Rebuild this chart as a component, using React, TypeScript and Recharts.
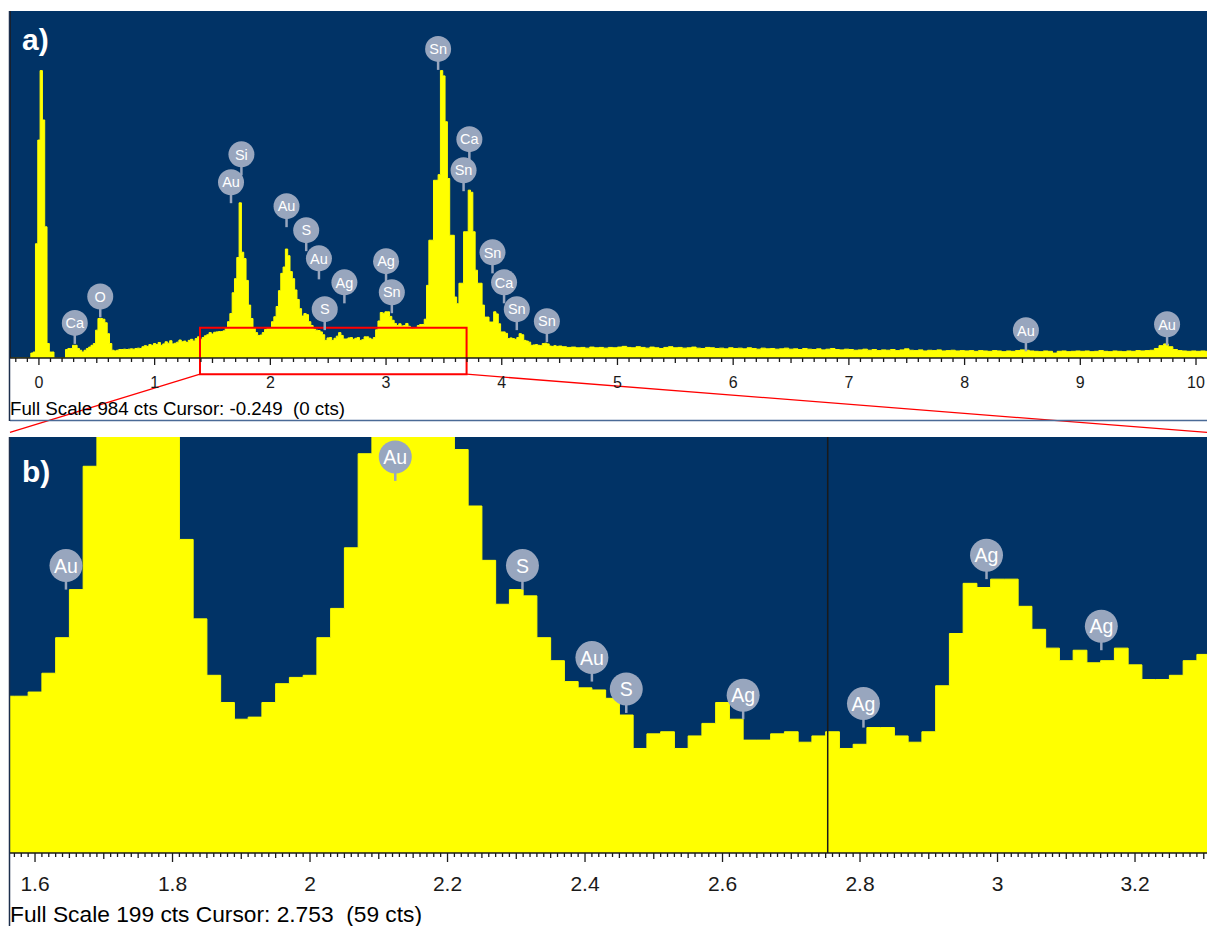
import {
  AreaChart,
  Area,
  XAxis,
  YAxis,
  CartesianGrid,
  ReferenceArea,
  ReferenceLine,
  ReferenceDot,
} from "recharts";

const NAVY = "#013366";
const YELLOW = "#ffff00";
const TAG = "#98a6be";
const INK = "#1a1a1a";
const FONT = "'Liberation Sans', Arial, Helvetica, sans-serif";

// counts per 0.02 keV channel, -0.24 .. 1.54 keV
const lowCounts = [
  0, 0, 0, 0, 0, 0, 0, 0, 0, 14, 17, 324, 618, 815, 675, 372, 41, 17, 17, 0,
  0, 0, 0, 0, 24, 27, 27, 36, 36, 27, 22, 17, 22, 27, 31, 36, 41, 79, 112, 112,
  110, 100, 69, 41, 22, 20, 22, 24, 24, 25, 24, 25, 26, 25, 27, 28, 27, 32, 35, 33,
  38, 36, 41, 38, 44, 36, 40, 46, 42, 49, 40, 42, 45, 51, 46, 48, 44, 50, 53, 48,
  55, 60, 52, 58, 63, 66, 72, 68, 73, 74,
];

// counts per 0.02 keV channel, 1.56 .. 3.32 keV (window of panel b)
const zoomCounts = [
  75, 75, 77, 86, 103, 126, 185, 225, 285, 440, 300, 282, 220, 150, 112, 85, 72, 64, 65, 72,
  81, 84, 85, 103, 117, 146, 191, 240, 258, 309, 290, 245, 225, 193, 166, 140, 119, 126, 123, 103,
  92, 82, 79, 78, 74, 66, 50, 57, 58, 50, 56, 62, 72, 64, 54, 54, 57, 58, 53, 56,
  58, 50, 52, 60, 60, 56, 53, 58, 80, 105, 129, 127, 131, 131, 118, 107, 98, 92, 97, 91,
  92, 98, 90, 83, 83, 85, 92, 95, 95,
];

// counts per 0.02 keV channel, 3.34 .. 4.50 keV
const snCounts = [
  110, 206, 334, 334, 504, 504, 520, 815, 800, 670, 509, 348, 348, 173, 154, 212, 212, 358, 358, 476,
  470, 358, 249, 212, 212, 150, 116, 116, 102, 102, 131, 125, 97, 74, 74, 70, 55, 57, 55, 53,
  58, 69, 66, 50, 48, 45, 36, 37, 38, 36, 35, 41, 42, 40, 34, 33, 35, 33, 34,
];

// counts per 0.04 keV step, 4.54 .. 10.14 keV
const tailCounts = [
  32, 30, 31, 29, 30, 28, 31, 29, 30, 28, 30, 29,
  31, 33, 30, 29, 32, 30, 28, 31, 29, 27, 30, 32, 29,
  30, 28, 29, 31, 28, 27, 30, 29, 27, 28, 26, 29,
  27, 28, 26, 29, 27, 25, 28, 26, 27, 25, 26, 28, 25,
  26, 24, 27, 25, 24, 26, 23, 25, 27, 24, 23, 25,
  24, 22, 23, 25, 22, 24, 21, 23, 22, 24, 21, 23, 26,
  22, 21, 23, 20, 22, 21, 23, 20, 21, 22, 20, 21,
  20, 21, 19, 21, 20, 19, 21, 20, 18, 20, 19, 21, 23,
  22, 20, 19, 18, 20, 19, 14, 19, 20, 18, 19, 20,
  19, 20, 18, 19, 21, 19, 18, 20, 19, 18, 20, 19, 21,
  20, 21, 22, 27, 35, 40, 32, 24, 21, 20, 19, 20,
  19, 20, 19, 20,
];

const channels = (start: number, step: number, counts: number[]) =>
  counts.map((c, i) => ({ e: Math.round((start + i * step) * 100) / 100, c }));

const spectrum = [
  ...channels(-0.24, 0.02, lowCounts),
  ...channels(1.56, 0.02, zoomCounts),
  ...channels(3.34, 0.02, snCounts),
  ...channels(4.54, 0.04, tailCounts),
];
const zoomData = spectrum.filter((d) => d.e >= 1.539 && d.e <= 3.341);

// axis ranges (keV) and full scales (cts)
const rangeA = [-0.25, 10.095];
const rangeB = [1.5636, 3.3047];
const fullScaleA = 984;
const fullScaleB = 199;
const cursorA = -0.249;
const cursorB = 2.753;

// zoom box drawn on panel a, in keV / cts
const boxE = [1.392, 3.696];
const boxC = [-46, 86];
const fanEnds = [-0.25, 10.096];
const fanC = -211;

// element markers: energy and counts at the tip of the stem
const tagsA = [
  { el: "Ca", e: 0.31, c: 40 },
  { el: "O", e: 0.53, c: 115 },
  { el: "Si", e: 1.75, c: 518 },
  { el: "Au", e: 1.66, c: 439 },
  { el: "Au", e: 2.14, c: 371 },
  { el: "S", e: 2.31, c: 303 },
  { el: "Au", e: 2.42, c: 223 },
  { el: "Ag", e: 2.64, c: 155 },
  { el: "S", e: 2.47, c: 79 },
  { el: "Ag", e: 3.0, c: 215 },
  { el: "Sn", e: 3.05, c: 127 },
  { el: "Sn", e: 3.45, c: 817 },
  { el: "Ca", e: 3.72, c: 561 },
  { el: "Sn", e: 3.67, c: 473 },
  { el: "Sn", e: 3.92, c: 240 },
  { el: "Ca", e: 4.02, c: 155 },
  { el: "Sn", e: 4.13, c: 79 },
  { el: "Sn", e: 4.39, c: 45 },
  { el: "Au", e: 8.53, c: 19 },
  { el: "Au", e: 9.75, c: 36 },
];

const tagsB = [
  { el: "Au", e: 1.645, c: 126 },
  { el: "Au", e: 2.124, c: 178 },
  { el: "S", e: 2.309, c: 126 },
  { el: "Au", e: 2.41, c: 82 },
  { el: "S", e: 2.46, c: 67 },
  { el: "Ag", e: 2.63, c: 64 },
  { el: "Ag", e: 2.805, c: 60 },
  { el: "Ag", e: 2.984, c: 131 },
  { el: "Ag", e: 3.151, c: 97 },
];

const ticksA: number[] = [];
for (let k = -2; k <= 100; k++) ticksA.push(k / 10);
const ticksB: number[] = [];
for (let k = 157; k <= 330; k++) ticksB.push(k / 100);

const isMult = (v: number, n: number) => Math.abs(v * n - Math.round(v * n)) < 1e-6;

function TickA({ x, y, payload }: any) {
  const v = payload.value;
  const len = isMult(v, 1) ? 7 : isMult(v, 2) ? 5 : 4;
  return (
    <g>
      <line x1={x} x2={x} y1={y} y2={y + len} stroke={INK} strokeWidth={1.3} />
      {isMult(v, 1) && (
        <text x={x} y={y + 30} textAnchor="middle" fontSize={16} fill={INK} fontFamily={FONT}>
          {v}
        </text>
      )}
    </g>
  );
}

function TickB({ x, y, payload }: any) {
  const v = payload.value;
  const len = isMult(v, 5) ? 9 : isMult(v, 10) ? 6 : isMult(v, 20) ? 5 : 4;
  return (
    <g>
      <line x1={x} x2={x} y1={y} y2={y + len} stroke={INK} strokeWidth={1.3} />
      {isMult(v, 5) && (
        <text x={x} y={y + 38} textAnchor="middle" fontSize={21} fill={INK} fontFamily={FONT}>
          {String(Math.round(v * 10) / 10)}
        </text>
      )}
    </g>
  );
}

function tagShape(el: string, r: number, lift: number, size: number) {
  return (p: any) => {
    const { cx, cy } = p;
    const oy = cy - lift;
    return (
      <g>
        <line x1={cx} x2={cx} y1={oy} y2={cy} stroke={TAG} strokeWidth={2.5} />
        <circle cx={cx} cy={oy} r={r} fill={TAG} />
        <text
          x={cx}
          y={oy + size * 0.36}
          textAnchor="middle"
          fontSize={size}
          fill="#ffffff"
          fontFamily={FONT}
        >
          {el}
        </text>
      </g>
    );
  };
}

export default function App() {
  return (
    <div
      style={{
        position: "absolute",
        left: 0,
        top: 0,
        width: 1207,
        height: 926,
        background: "#ffffff",
        overflow: "hidden",
      }}
    >
      <div style={{ position: "absolute", left: 0, top: 0 }}>
        <AreaChart width={1207} height={436} data={spectrum} margin={{ top: 11, right: 0, bottom: 0, left: 10 }}>
          <CartesianGrid fill={NAVY} horizontal={false} vertical={false} />
          <XAxis
            dataKey="e"
            type="number"
            domain={rangeA}
            allowDataOverflow
            ticks={ticksA}
            interval={0}
            tick={(p: any) => <TickA {...p} />}
            tickLine={false}
            tickSize={0}
            tickMargin={0}
            height={78}
            axisLine={{ stroke: INK, strokeWidth: 1.5 }}
          />
          <YAxis hide domain={[0, fullScaleA]} allowDataOverflow />
          <Area
            type="step"
            dataKey="c"
            stroke={YELLOW}
            strokeWidth={1}
            fill={YELLOW}
            fillOpacity={1}
            dot={false}
            activeDot={false}
            isAnimationActive={false}
          />
          <ReferenceLine x={cursorA} stroke={INK} strokeWidth={1.5} />
          {tagsA.map((t, i) => (
            <ReferenceDot key={i} x={t.e} y={t.c} r={13} shape={tagShape(t.el, 13, 21, 14.5)} />
          ))}
          <ReferenceArea
            x1={boxE[0]}
            x2={boxE[1]}
            y1={boxC[0]}
            y2={boxC[1]}
            fill="none"
            fillOpacity={0}
            stroke="#ff0000"
            strokeWidth={2}
            ifOverflow="visible"
          />
          <ReferenceLine
            segment={[
              { x: boxE[0], y: boxC[0] },
              { x: fanEnds[0], y: fanC },
            ]}
            stroke="#ff0000"
            strokeWidth={1.3}
            ifOverflow="visible"
          />
          <ReferenceLine
            segment={[
              { x: boxE[1], y: boxC[0] },
              { x: fanEnds[1], y: fanC },
            ]}
            stroke="#ff0000"
            strokeWidth={1.3}
            ifOverflow="visible"
          />
        </AreaChart>
      </div>

      <div style={{ position: "absolute", left: 0, top: 436 }}>
        <AreaChart width={1207} height={490} data={zoomData} margin={{ top: 1, right: 0, bottom: 0, left: 10 }}>
          <CartesianGrid fill={NAVY} horizontal={false} vertical={false} />
          <XAxis
            dataKey="e"
            type="number"
            domain={rangeB}
            allowDataOverflow
            ticks={ticksB}
            interval={0}
            tick={(p: any) => <TickB {...p} />}
            tickLine={false}
            tickSize={0}
            tickMargin={0}
            height={73}
            axisLine={{ stroke: INK, strokeWidth: 1.5 }}
          />
          <YAxis hide domain={[0, fullScaleB]} allowDataOverflow />
          <Area
            type="step"
            dataKey="c"
            stroke={YELLOW}
            strokeWidth={1}
            fill={YELLOW}
            fillOpacity={1}
            dot={false}
            activeDot={false}
            isAnimationActive={false}
          />
          <ReferenceLine x={cursorB} stroke={INK} strokeWidth={1.5} />
          {tagsB.map((t, i) => (
            <ReferenceDot key={i} x={t.e} y={t.c} r={16.5} shape={tagShape(t.el, 16.5, 24, 19.5)} />
          ))}
        </AreaChart>
      </div>

      <svg
        width={1207}
        height={926}
        style={{ position: "absolute", left: 0, top: 0, pointerEvents: "none" }}
      >
        <line x1={10} x2={1207} y1={420.5} y2={420.5} stroke="#4a6a96" strokeWidth={1.5} />
        <line x1={9.5} x2={9.5} y1={11} y2={421} stroke="#1c2f4d" strokeWidth={1.5} />
        <line x1={9.5} x2={9.5} y1={437} y2={926} stroke="#1c2f4d" strokeWidth={1.5} />
        <text x={22} y={50} fontSize={30} fontWeight="bold" fill="#ffffff" fontFamily={FONT}>
          a)
        </text>
        <text x={22} y={482} fontSize={30} fontWeight="bold" fill="#ffffff" fontFamily={FONT}>
          b)
        </text>
        <text
          x={10}
          y={414.5}
          fontSize={18}
          fill="#000000"
          fontFamily={FONT}
          textLength={335}
          lengthAdjust="spacingAndGlyphs"
          style={{ whiteSpace: "pre" }}
        >
          {`Full Scale ${fullScaleA} cts Cursor: ${cursorA}  (0 cts)`}
        </text>
        <text
          x={10}
          y={922}
          fontSize={21.5}
          fill="#000000"
          fontFamily={FONT}
          textLength={412}
          lengthAdjust="spacingAndGlyphs"
          style={{ whiteSpace: "pre" }}
        >
          {`Full Scale ${fullScaleB} cts Cursor: ${cursorB}  (59 cts)`}
        </text>
      </svg>
    </div>
  );
}
